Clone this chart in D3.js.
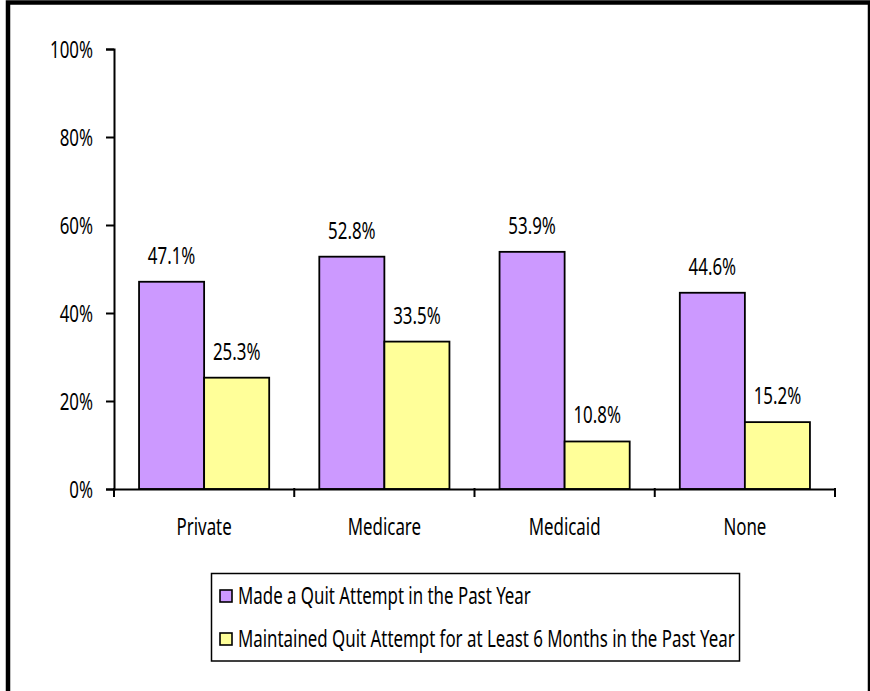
<!DOCTYPE html>
<html>
<head>
<meta charset="utf-8">
<script src="https://cdn.jsdelivr.net/npm/d3@7"></script>
<style>
  html, body { margin: 0; padding: 0; background: #fff; }
  svg text { font-family: "Noto Sans", "Open Sans", sans-serif; font-size: 23px; fill: #000; }
</style>
</head>
<body>
<svg id="chart" width="870" height="691"></svg>
<script>
const categories = ["Private", "Medicare", "Medicaid", "None"];
const seriesNames = [
  "Made a Quit Attempt in the Past Year",
  "Maintained Quit Attempt for at Least 6 Months in the Past Year"
];
const madeQuitAttempt = [47.1, 52.8, 53.9, 44.6];
const maintainedQuit = [25.3, 33.5, 10.8, 15.2];
const yTicks = [0, 20, 40, 60, 80, 100];
const seriesColors = ["#CC99FF", "#FFFF99"];

const svg = d3.select("#chart");

// narrow the typeface horizontally so the long legend line spans 497px
const probe = svg.append("text").text(seriesNames[1]);
const sx = 497 / probe.node().getComputedTextLength();
probe.remove();

// position a text element at (px, py) with the horizontal squeeze applied
function place(sel, px, py) {
  sel.each(function (d, i) {
    const t = d3.select(this);
    const X = typeof px === "function" ? px.call(this, d, i) : px;
    const Y = typeof py === "function" ? py.call(this, d, i) : py;
    t.attr("x", null).attr("y", null).attr("dy", null)
     .attr("transform", `translate(${X},${Y}) scale(${sx},1)`);
  });
}

// outer frame
svg.append("rect")
  .attr("x", 8).attr("y", 2.5)
  .attr("width", 862).attr("height", 700)
  .attr("fill", "none").attr("stroke", "#000").attr("stroke-width", 4.5);

const plot = { left: 114, right: 835, top: 49, bottom: 489 };

const x = d3.scaleBand().domain(categories).range([plot.left, plot.right]).paddingInner(0).paddingOuter(0);
const inner = d3.scaleBand().domain([0, 1]).range([0, x.bandwidth()]).paddingOuter(0.385).paddingInner(0);
const y = d3.scaleLinear().domain([0, 100]).range([plot.bottom, plot.top]);

const data = [madeQuitAttempt, maintainedQuit];

// y axis
const yAxis = d3.axisLeft(y).tickValues(yTicks).tickFormat(d => d + "%").tickSizeOuter(0).tickSize(8);
const gy = svg.append("g").attr("transform", `translate(${plot.left},0)`).call(yAxis);
gy.attr("font-family", null).attr("font-size", null);
gy.select(".domain").attr("stroke", "#000").attr("stroke-width", 2);
gy.selectAll(".tick line").attr("stroke", "#000").attr("stroke-width", 2);
gy.selectAll(".tick text").attr("text-anchor", "end").call(place, -21, 8);

// bars
const groups = svg.append("g").selectAll("g")
  .data(categories)
  .join("g")
  .attr("transform", d => `translate(${x(d)},0)`);

const cells = (c, i) => data.map((s, k) => ({ k, v: s[i] }));

groups.selectAll("rect")
  .data(cells)
  .join("rect")
  .attr("x", d => inner(d.k))
  .attr("width", inner.bandwidth())
  .attr("y", d => y(d.v))
  .attr("height", d => y(0) - y(d.v))
  .attr("fill", d => seriesColors[d.k])
  .attr("stroke", "#000")
  .attr("stroke-width", 1.8);

groups.selectAll("text.val")
  .data(cells)
  .join("text")
  .attr("class", "val")
  .attr("text-anchor", "middle")
  .text(d => d.v.toFixed(1) + "%")
  .call(place, d => inner(d.k) + inner.bandwidth() / 2, d => y(d.v) - 18);

// x axis
const xAxis = d3.axisBottom(x).tickSize(0).tickSizeOuter(0);
const gx = svg.append("g").attr("transform", `translate(0,${plot.bottom})`).call(xAxis);
gx.attr("font-family", null).attr("font-size", null);
gx.select(".domain").attr("stroke", "#000").attr("stroke-width", 2);
gx.selectAll(".tick text").attr("text-anchor", "middle").call(place, 0, 46);
// category separators
const edges = categories.map(c => x(c)).concat([plot.right]);
gx.selectAll("line.sep").data(edges).join("line")
  .attr("class", "sep")
  .attr("x1", d => d).attr("x2", d => d)
  .attr("y1", -1).attr("y2", 8)
  .attr("stroke", "#000").attr("stroke-width", 2);

// legend
const legend = svg.append("g");
legend.append("rect")
  .attr("x", 211.5).attr("y", 573.5).attr("width", 528).attr("height", 87.5)
  .attr("fill", "#fff").attr("stroke", "#000").attr("stroke-width", 1.5);
const items = legend.selectAll("g.item").data(seriesNames).join("g")
  .attr("class", "item")
  .attr("transform", (d, i) => `translate(220,${604 + i * 43})`);
items.append("rect")
  .attr("x", 0).attr("y", -14).attr("width", 12).attr("height", 12)
  .attr("fill", (d, i) => seriesColors[i]).attr("stroke", "#000").attr("stroke-width", 1.6);
items.append("text")
  .text(d => d)
  .call(place, 18, 0);
</script>
</body>
</html>
